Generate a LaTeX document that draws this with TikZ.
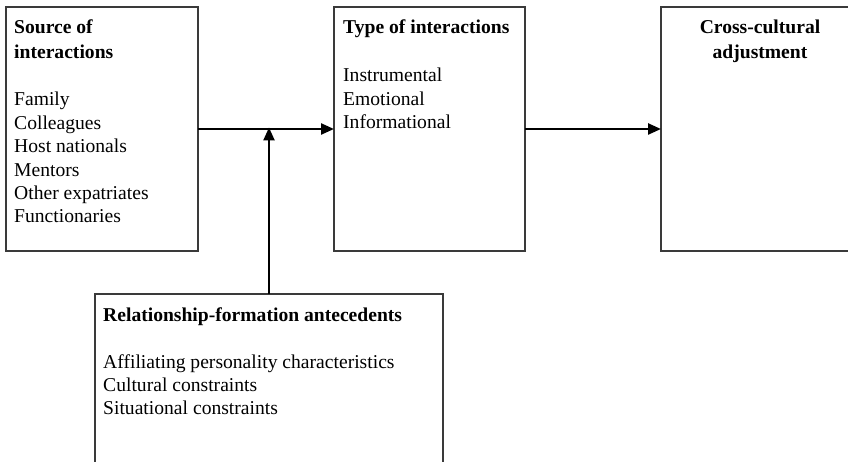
\documentclass[tikz,border=0pt]{standalone}
\usepackage{fontspec}
\setmainfont{Liberation Serif}
\usetikzlibrary{arrows.meta}
\definecolor{boxgray}{HTML}{3A3A3A}
\begin{document}
\begin{tikzpicture}[x=1pt,y=-1pt,
  boxnode/.style={draw=boxgray,line width=1.4pt,rectangle,inner sep=0pt,outer sep=0pt,anchor=north west},
  txt/.style={anchor=base west,inner sep=0pt,font=\fontsize{19.6}{23.4}\selectfont},
  hd/.style={txt,font=\fontsize{19.6}{23.4}\selectfont\bfseries},
  hdc/.style={anchor=base,inner sep=0pt,font=\fontsize{19.6}{23.4}\selectfont\bfseries},
  arr/.style={draw=black,line width=2.4pt,-{Triangle[length=13pt,width=11pt]}}]
\useasboundingbox (0,0) rectangle (848,462);
\clip (0,0) rectangle (848,462);
% boxes
\node[boxnode,minimum width=192pt,minimum height=244pt] (b1) at (6,7) {};
\node[boxnode,minimum width=191pt,minimum height=244pt] (b2) at (334,7) {};
\node[boxnode,minimum width=198pt,minimum height=244pt] (b3) at (661,7) {};
\node[boxnode,minimum width=348pt,minimum height=200pt] (b4) at (95,294) {};
% box 1 text
\node[hd] (s1) at (14,34) {Source of};
\node[hd] (s2) at (14,59) {interactions};
\node[txt] (s3) at (14,106) {Family};
\node[txt] (s4) at (14,129.4) {Colleagues};
\node[txt] (s5) at (14,152.8) {Host nationals};
\node[txt] (s6) at (14,176.2) {Mentors};
\node[txt] (s7) at (14,199.6) {Other expatriates};
\node[txt] (s8) at (14,223) {Functionaries};
% box 2 text
\node[hd] (t1) at (343,34) {Type of interactions};
\node[txt] (t2) at (343,82) {Instrumental};
\node[txt] (t3) at (343,105.4) {Emotional};
\node[txt] (t4) at (343,128.8) {Informational};
% box 3 text
\node[hdc] (c1) at (760,34) {Cross-cultural};
\node[hdc] (c2) at (760,59) {adjustment};
% box 4 text
\node[hd] (r1) at (103,321) {Relationship-formation antecedents};
\node[txt] (r2) at (103,368) {Affiliating personality characteristics};
\node[txt] (r3) at (103,391.4) {Cultural constraints};
\node[txt] (r4) at (103,414.8) {Situational constraints};
% arrows
\coordinate (j) at (b4.north |- b1.east);
\draw[arr] (b1.east) -- (b2.west);
\draw[arr] (b2.east) -- (b3.west);
\draw[arr] (b4.north) -- ([yshift=1.5pt]j);
\end{tikzpicture}
\end{document}
